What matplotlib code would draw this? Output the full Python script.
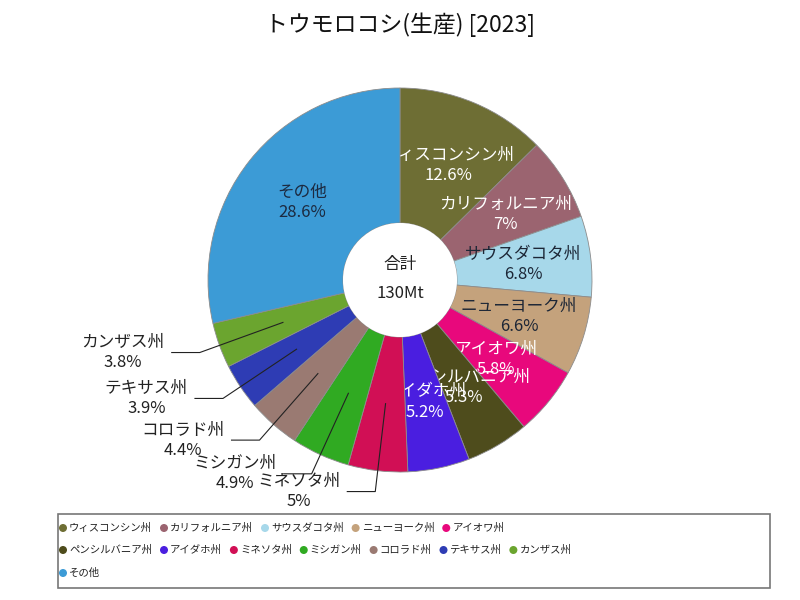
import numpy as np
import matplotlib
matplotlib.use("Agg")
import matplotlib.pyplot as plt
from matplotlib.patches import Rectangle, Circle

plt.rcParams['font.family'] = ['Noto Sans CJK JP', 'DejaVu Sans']

title = "トウモロコシ(生産) [2023]"
names = ["ウィスコンシン州", "カリフォルニア州", "サウスダコタ州", "ニューヨーク州", "アイオワ州",
         "ペンシルバニア州", "アイダホ州", "ミネソタ州", "ミシガン州", "コロラド州",
         "テキサス州", "カンザス州", "その他"]
values = [12.6, 7, 6.8, 6.6, 5.8, 5.3, 5.2, 5, 4.9, 4.4, 3.9, 3.8, 28.6]
colors = ["#6e6e34", "#9b6470", "#a7d8ea", "#c4a27c", "#e8087c", "#4e4c1c", "#4a1ee0",
          "#d10f55", "#30aa22", "#9a7a72", "#2e3cb4", "#6ba52f", "#3c9bd6"]
label_colors = ["white", "white", "#1c2636", "#1c2636", "white", "white", "white",
                "#222222", "#222222", "#222222", "#222222", "#222222", "#1c2a40"]
total_label = "合計"
total_value = "130Mt"

fig = plt.figure(figsize=(8, 6), dpi=100)
ax = fig.add_axes([0, 0, 1, 1])
cx, cy = 400, 320
R, r0 = 192, 57
wedges, _ = ax.pie(values, colors=colors, startangle=90, counterclock=False, radius=R,
                   center=(cx, cy),
                   wedgeprops=dict(width=R - r0, edgecolor="#8c8c8c", linewidth=0.6))
ax.set_xlim(0, 800)
ax.set_ylim(0, 600)
ax.set_aspect('auto')
ax.axis('off')

rmid = (R + r0) / 2
for i, (w, nm, v) in enumerate(zip(wedges, names, values)):
    w.set_zorder(2 + 2 * i)
    th = np.deg2rad((w.theta1 + w.theta2) / 2)
    c, s = np.cos(th), np.sin(th)
    txt = f"{nm}\n{v:g}%"
    if v > 5.0:
        ax.text(cx + rmid * c, cy + rmid * s, txt, ha='center', va='center',
                multialignment='center', fontsize=12, color=label_colors[i],
                linespacing=1.25, zorder=3 + 2 * i)
    else:
        p0 = (cx + rmid * c, cy + rmid * s)
        p1 = (cx + 213 * c, cy + 213 * s)
        d = -1 if c < 0 else 1
        p2 = (p1[0] + d * 28, p1[1])
        ax.plot([p0[0], p1[0], p2[0]], [p0[1], p1[1], p2[1]], color="#222222",
                lw=0.8, zorder=60)
        ax.text(p2[0] + d * 7, p2[1], txt, ha='right' if d < 0 else 'left', va='center',
                multialignment='center', fontsize=12, color=label_colors[i],
                linespacing=1.25, zorder=61)

ax.add_patch(Circle((cx, cy), r0, facecolor='white', edgecolor='none', zorder=40))
ax.text(cx, cy + 15, total_label, ha='center', va='center', fontsize=12, color="#222222", zorder=41)
ax.text(cx, cy - 14, total_value, ha='center', va='center', fontsize=12, color="#222222", zorder=41)

ax.text(400, 575, title, ha='center', va='center', fontsize=16.5, color="#111111")

# legend (flowing layout)
ax.add_patch(Rectangle((58, 12), 712, 74, facecolor='white', edgecolor='#777777', lw=1.2, zorder=70))
renderer = fig.canvas.get_renderer()
row_y = [72, 50, 27]
x = 63
row = 0
limit = 590
for nm, col in zip(names, colors):
    t = ax.text(x + 6, row_y[row], nm, ha='left', va='center', fontsize=7.5, color="#222222", zorder=72)
    wdt = t.get_window_extent(renderer).width
    if x + 6 + wdt > limit and x > 63:
        row += 1
        x = 63
        t.set_position((x + 6, row_y[row]))
    ax.add_patch(Circle((x, row_y[row]), 4, facecolor=col, edgecolor='none', zorder=72))
    x = x + 6 + wdt + 12

fig.savefig("out.png", dpi=100)
